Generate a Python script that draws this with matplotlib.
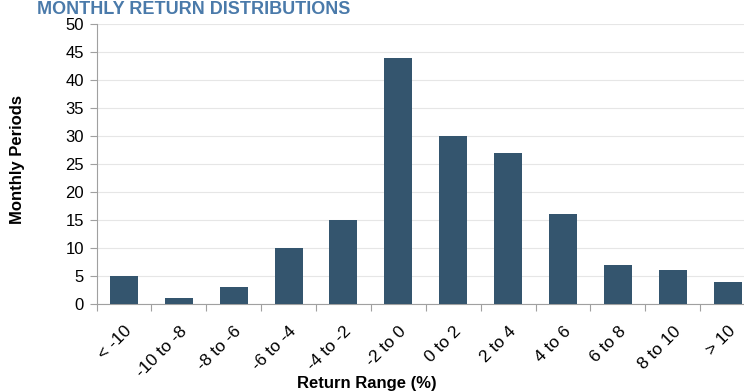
import matplotlib.pyplot as plt

# categories and counts
categorias = ['< -10', '-10 to -8', '-8 to -6', '-6 to -4', '-4 to -2', '-2 to 0',
              '0 to 2', '2 to 4', '4 to 6', '6 to 8', '8 to 10', '> 10']
periodos = [5, 1, 3, 10, 15, 44, 30, 27, 16, 7, 6, 4]
ticks_y = [0, 5, 10, 15, 20, 25, 30, 35, 40, 45, 50]

color_barra = '#34556e'

fig = plt.figure(figsize=(7.44, 3.92), dpi=100)
ax = fig.add_axes([96.5 / 744, 1 - 304 / 392, (755 - 96.5) / 744, 280 / 392])

x = list(range(len(categorias)))
ax.bar(x, periodos, width=0.51, color=color_barra, zorder=3)

ax.set_xlim(-0.5, len(categorias) - 0.5)
ax.set_ylim(0, 50)
ax.set_yticks(ticks_y)
ax.set_yticklabels([str(t) for t in ticks_y], fontsize=12, family='Liberation Sans')
ax.yaxis.grid(True, color='#e6e6e6', linewidth=0.8, zorder=0)

# x ticks at category boundaries, labels at centers
ax.set_xticks([i - 0.5 for i in range(len(categorias) + 1)])
ax.set_xticklabels([])
ax.set_xticks(x, minor=True)
ax.set_xticklabels(categorias, minor=True, rotation=45, ha='right', rotation_mode='anchor',
                   fontsize=12.5, family='Liberation Sans')
ax.tick_params(axis='x', which='minor', length=0, pad=14)
ax.tick_params(axis='x', which='major', length=5, color='#a0a0a0')
ax.tick_params(axis='y', length=5, color='#a0a0a0', pad=4)

for lado in ['top', 'right']:
    ax.spines[lado].set_visible(False)
ax.spines['left'].set_color('#a0a0a0')
ax.spines['bottom'].set_color('#a0a0a0')

fig.text(18 / 744, 1 - 160 / 392, 'Monthly Periods', fontsize=12, fontweight='bold',
         rotation=90, ha='center', va='center', family='Liberation Sans')
fig.text(367 / 744, 1 / 392, 'Return Range (%)', fontsize=12, fontweight='bold',
         ha='center', va='bottom', family='Liberation Sans')

fig.text(37 / 744, 1 - 1 / 392, 'MONTHLY RETURN DISTRIBUTIONS', fontsize=13,
         fontweight='bold', color='#4a7aaa', ha='left', va='top',
         family='Liberation Sans')

fig.savefig('out.png', dpi=100)
